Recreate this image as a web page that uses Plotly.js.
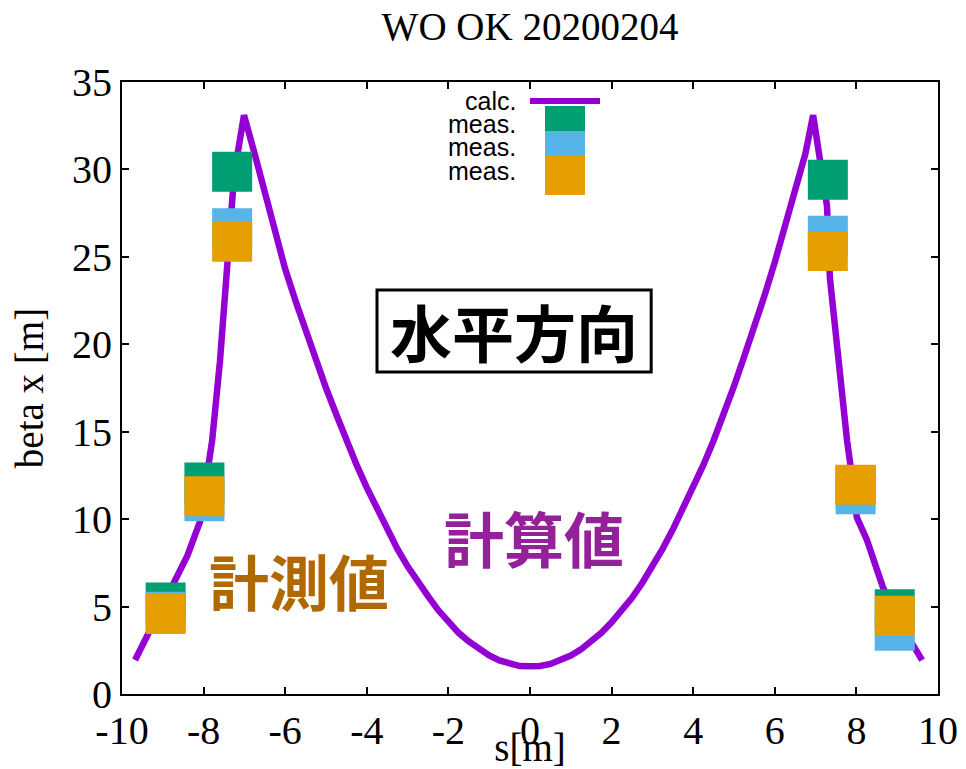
<!DOCTYPE html>
<html><head><meta charset="utf-8">
<script src="https://cdn.plot.ly/plotly-3.0.1.min.js"></script>
<style>body{margin:0;background:#fff}#chart{width:966px;height:769px}</style>
</head><body><div id="chart"></div>
<script>
// calculated beta function
const sCalc = [-9.68,-9.4,-9.1,-8.7,-8.4,-8.09,-7.95,-7.79,-7.6,-7.43,-7.28,-7.16,-7.01,
  -6.75,-6.5,-6.25,-6.0,-5.75,-5.5,-5.25,-5.0,-4.75,-4.5,-4.25,-4.0,-3.75,-3.5,-3.25,-3.0,-2.75,-2.5,-2.25,-2.0,-1.75,-1.5,-1.25,-1.0,-0.75,-0.5,-0.25,
  0.0,0.25,0.5,0.75,1.0,1.25,1.5,1.75,2.0,2.25,2.5,2.75,3.0,3.25,3.5,3.75,4.0,4.25,4.5,4.75,5.0,5.25,5.5,5.75,6.0,6.25,6.5,6.75,6.94,
  7.11,7.28,7.35,7.55,7.77,7.9,8.01,8.26,8.5,8.65,9.0,9.3,9.49,9.61];
const betaCalc = [1.94,3.2,4.6,6.35,7.9,9.84,11.9,14.5,19.0,23.7,28.8,31.0,33.1,
  30.9,28.6,26.6,24.3,22.5,20.8,19.1,17.5,16.0,14.5,13.1,11.8,10.6,9.4,8.3,7.3,6.4,5.6,4.8,4.1,3.5,3.0,2.55,2.2,1.92,1.72,1.6,
  1.58,1.6,1.72,1.92,2.2,2.55,3.0,3.5,4.1,4.75,5.5,6.35,7.3,8.3,9.4,10.6,11.8,13.1,14.5,16.0,17.6,19.3,21.0,22.8,24.7,26.7,28.7,30.9,33.1,
  30.7,27.9,23.8,19.0,14.5,12.3,10.1,8.8,7.26,6.1,4.3,3.1,2.3,1.94];
// measured values
const sMeas = [-8.93,-7.98,-7.30,7.30,7.98,8.94];
const betaMeasA = [5.23,12.09,29.87,29.41,11.95,4.85];
const betaMeasB = [4.71,11.03,26.64,26.20,11.42,3.62];
const betaMeasC = [4.58,11.31,25.87,25.33,11.97,4.47];
const xTickVals = [-10,-8,-6,-4,-2,0,2,4,6,8,10];
const xTickText = ['-10','-8','-6','-4','-2','0','2','4','6','8','10'];
const yTickVals = [0,5,10,15,20,25,30,35];
const legendLabels = ['calc.','meas.','meas.','meas.'];
const colCalc = '#9400d3', colA = '#009e73', colB = '#56b4e9', colC = '#e69f00';

const L=122, R=28, T=82, B=75, W=966, H=769;
const pw = W-L-R, ph = H-T-B;
const px = x => (x-L)/pw, py = y => (H-B-y)/ph;

const traces = [
  {x:sCalc, y:betaCalc, mode:'lines', line:{color:colCalc, width:6.5}, name:legendLabels[0]},
  {x:sMeas, y:betaMeasA, mode:'markers', marker:{symbol:'square', size:40, color:colA, line:{width:0}}, name:legendLabels[1]},
  {x:sMeas, y:betaMeasB, mode:'markers', marker:{symbol:'square', size:40, color:colB, line:{width:0}}, name:legendLabels[2]},
  {x:sMeas, y:betaMeasC, mode:'markers', marker:{symbol:'square', size:40, color:colC, line:{width:0}}, name:legendLabels[3]}
];

const serif = 'Liberation Serif, Times New Roman, serif';
const cjk = 'Noto Sans CJK JP, sans-serif';
const legTextY = [101,124,147,171];
const annotations = legendLabels.map((t,i)=>({xref:'paper', yref:'paper', x:px(518), y:py(legTextY[i]), xanchor:'right', yanchor:'middle', text:t, showarrow:false, font:{family:'Liberation Sans, Arial, sans-serif', size:25, color:'#000'}}));
annotations.push(
  {x:-0.39, y:20.76, text:'<b>水平方向</b>', showarrow:false, font:{family:cjk, size:62, color:'#000'}},
  {x:0.10, y:8.98, text:'<b>計算値</b>', showarrow:false, font:{family:cjk, size:60, color:'#94209a'}},
  {x:-5.66, y:6.52, text:'<b>計測値</b>', showarrow:false, font:{family:cjk, size:60, color:'#b06800'}}
);
const shapes = [
  {type:'rect', xref:'x', yref:'y', x0:-3.75, x1:2.97, y0:18.41, y1:23.10, line:{color:'#000', width:3}},
  {type:'line', xref:'paper', yref:'paper', x0:px(530), x1:px(600), y0:py(101), y1:py(101), line:{color:colCalc, width:6}},
  {type:'rect', xref:'paper', yref:'paper', x0:px(545), x1:px(585), y0:py(106), y1:py(146), fillcolor:colA, line:{width:0}},
  {type:'rect', xref:'paper', yref:'paper', x0:px(545), x1:px(585), y0:py(131), y1:py(171), fillcolor:colB, line:{width:0}},
  {type:'rect', xref:'paper', yref:'paper', x0:px(545), x1:px(585), y0:py(155), y1:py(195), fillcolor:colC, line:{width:0}}
];

const axisCommon = {showgrid:false, zeroline:false, showline:true, linecolor:'#000', linewidth:2, mirror:'ticks', ticks:'inside', ticklen:7, tickwidth:1.5, tickcolor:'#000', tickfont:{family:serif, size:40, color:'#000'}};
const layout = {
  width:W, height:H, margin:{l:L, r:R, t:T, b:B}, paper_bgcolor:'#fff', plot_bgcolor:'#fff', showlegend:false,
  title:{text:'WO OK 20200204', font:{family:serif, size:39, color:'#000'}, xref:'paper', x:0.5, xanchor:'center', yref:'container', y:1-26/H, yanchor:'middle'},
  xaxis:Object.assign({}, axisCommon, {range:[-10,10], tickmode:'array', tickvals:xTickVals, ticktext:xTickText, title:{text:'s[m]', font:{family:serif, size:39, color:'#000'}, standoff:0}}),
  yaxis:Object.assign({}, axisCommon, {range:[0,35], tickmode:'array', tickvals:yTickVals, title:{text:'beta x [m]', font:{family:serif, size:39, color:'#000'}, standoff:16}}),
  annotations:annotations, shapes:shapes
};
Plotly.newPlot('chart', traces, layout, {displayModeBar:false});
</script></body></html>
